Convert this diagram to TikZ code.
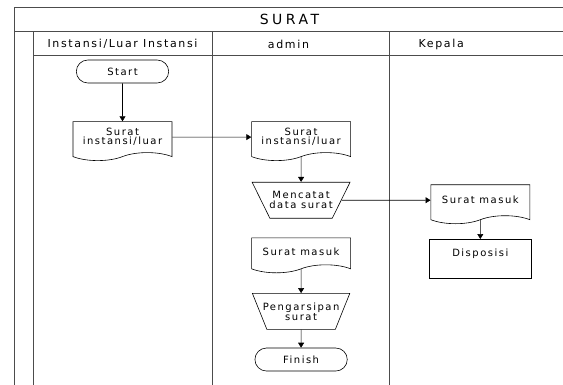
\documentclass[tikz,border=0pt]{standalone}
\usepackage{fontspec}
\setmainfont{DejaVu Sans}[LetterSpace=15]
\usetikzlibrary{positioning,shapes.geometric,shapes.misc,shapes.symbols,arrows.meta}

\begin{document}
\begin{tikzpicture}[x=1pt, y=-1pt, node distance=20pt,
  lane/.style={line width=1pt, draw=black!70},
  hd/.style={font=\fontsize{11}{11}\selectfont},
  term/.style={rounded rectangle, draw, line width=0.6pt, minimum width=99pt, minimum height=23pt, font=\fontsize{10}{10}\selectfont},
  doc/.style={tape, tape bend top=none, tape bend bottom=in and out, tape bend height=8pt, draw, line width=0.6pt, minimum width=99pt, minimum height=39pt, align=center, inner sep=1pt, font=\fontsize{10}{9}\selectfont},
  proc/.style={trapezium, shape border rotate=180, trapezium stretches=true, trapezium angle=60, minimum width=98pt, minimum height=36pt, draw, line width=0.6pt, align=center, inner xsep=-14pt, inner ysep=0pt, font=\fontsize{10}{10}\selectfont},
  box/.style={rectangle, draw, line width=0.6pt, minimum width=102pt, minimum height=39pt, text height=7pt, text depth=12pt, font=\fontsize{10}{10}\selectfont},
  a/.style={-{Triangle[length=5pt,width=6pt]}, line width=0.6pt}]
  \useasboundingbox (0,0) rectangle (563,385);

  % pool and lanes
  \draw[lane] (14,385) -- (14,7.5) -- (563,7.5);
  \draw[lane] (14,32) -- (563,32);
  \draw[lane] (33,56) -- (563,56);
  \draw[lane] (33,32) -- (33,385);
  \draw[lane] (212,32) -- (212,385);
  \draw[lane] (389,32) -- (389,385);

  \node[font=\fontsize{14}{14}\selectfont\addfontfeature{LetterSpace=25}] (title) at (289.5,19.5) {SURAT};
  \node[hd] (h1) at (122.5,44) {Instansi/Luar Instansi};
  \node[hd] (h2) at (288.5,44) {admin};
  \node[hd, anchor=west] (h3) at (415,44) {Kepala};

  \node[term] (start) at (122.5,71.5) {Start};
  \node[doc, below=38pt of start] (suratluar) {Surat\\instansi/luar};
  \node[doc, right=79pt of suratluar] (suratadm) {Surat\\instansi/luar};
  \node[proc, below=29pt of suratadm] (catat) {Mencatat\\data surat};
  \node[doc, right=89pt of catat] (masukkpl) {Surat masuk};
  \node[box, below=23pt of masukkpl] (disposisi) {Disposisi};
  \node[doc, minimum height=35pt, below=19pt of catat] (masukadm) {Surat masuk};
  \node[proc, below=28pt of masukadm] (arsip) {Pengarsipan\\surat};
  \node[term, below=18pt of arsip] (finish) {Finish};

  \path[a] (start) edge (suratluar);
  \path[a] (suratluar) edge (suratadm);
  \path[a] (suratadm) edge (catat);
  \path[a] (catat) edge (masukkpl);
  \path[a] (masukkpl) edge (disposisi);
  \path[a] (masukadm) edge (arsip);
  \path[a] (arsip) edge (finish);
\end{tikzpicture}
\end{document}
